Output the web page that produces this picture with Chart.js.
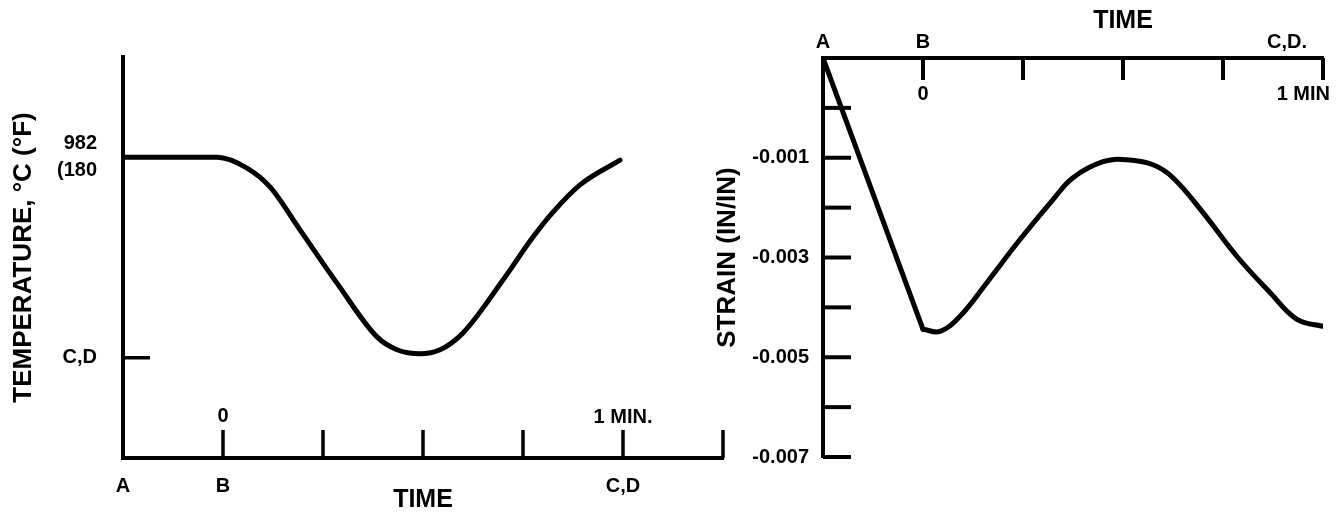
<!DOCTYPE html>
<html>
<head>
<meta charset="utf-8">
<title>Temperature and strain cycle</title>
<script src="https://cdn.jsdelivr.net/npm/chart.js@4.4.0/dist/chart.umd.min.js"></script>
<style>
  body { margin: 0; background: #fff; }
  #wrap { position: relative; width: 1343px; height: 519px; overflow: hidden; }
  canvas { position: absolute; top: 0; }
  #tempChart { left: 0; }
  #strainChart { left: 680px; }
</style>
</head>
<body>
<div id="wrap">
  <canvas id="tempChart" width="760" height="519"></canvas>
  <canvas id="strainChart" width="663" height="519"></canvas>
</div>
<script>
// Time in minutes, B = 0, C,D = 1 min

// Left graph: temperature (arbitrary units, 982 level = 75, C,D level = 25)
const tempTime  = [-0.25, -0.015, 0.06, 0.1175, 0.1925, 0.285, 0.385, 0.435, 0.4925, 0.5425, 0.60, 0.70, 0.775, 0.825, 0.8925, 0.9925];
const tempValue = [75, 75, 72.3, 67.6, 56.9, 43.6, 30.2, 27.0, 26.0, 27.0, 31.2, 44.4, 55.1, 61.3, 68.1, 74.3];
const tempTimeTicks = [0, 0.25, 0.5, 0.75, 1, 1.25];
const tempPointTimes = [-0.25, 0, 1];
const tempPointLabels = ['A', 'B', 'C,D'];
const tempLevelValues = [25, 75];
const tempLevelLabels = ['C,D', ['982', '(180']];

// Right graph: strain (in/in)
const strainLoadTime  = [-0.25, 0];
const strainLoadValue = [0.001, -0.00444];
const strainTime  = [0, 0.0425, 0.0925, 0.16, 0.2425, 0.325, 0.375, 0.45, 0.51, 0.575, 0.625, 0.70, 0.785, 0.8675, 0.935, 1.0];
const strainValue = [-0.00444, -0.00448, -0.00418, -0.0035, -0.00264, -0.00184, -0.0014, -0.00108, -0.00104, -0.00114, -0.0014, -0.0021, -0.00298, -0.0037, -0.00424, -0.00438];
const strainTimeTicks = [0, 0.25, 0.5, 0.75, 1];
const strainTicks = [0, -0.001, -0.002, -0.003, -0.004, -0.005, -0.006, -0.007];
const strainLabelValues = [-0.001, -0.003, -0.005, -0.007];
const strainPointLabels = ['A', 'B', 'C,D.'];

Chart.defaults.font.family = "'Liberation Sans', Arial, Helvetica, sans-serif";
Chart.defaults.font.size = 20;
Chart.defaults.font.weight = 'bold';
Chart.defaults.color = '#000';

const toPoints = (xs, ys) => xs.map((x, i) => ({ x: x, y: ys[i] }));

// Draws the inward tick marks and the loose labels along the time axis
function axisMarks(cfg) {
    return {
        id: 'axisMarks',
        afterDatasetsDraw(chart) {
            const { ctx, chartArea } = chart;
            const xs = chart.scales.x;
            const ys = chart.scales.y;
            const top = cfg.edge === 'top';
            const edge = top ? chartArea.top : chartArea.bottom;
            ctx.save();
            ctx.strokeStyle = '#000';
            ctx.lineWidth = cfg.tickWidth;
            cfg.xTicks.forEach(v => {
                const px = xs.getPixelForValue(v);
                ctx.beginPath();
                ctx.moveTo(px, edge);
                ctx.lineTo(px, edge + (top ? cfg.xLen : -cfg.xLen));
                ctx.stroke();
            });
            cfg.yTicks.forEach(v => {
                const py = ys.getPixelForValue(v);
                ctx.beginPath();
                ctx.moveTo(chartArea.left, py);
                ctx.lineTo(chartArea.left + cfg.yLen, py);
                ctx.stroke();
            });
            ctx.fillStyle = '#000';
            ctx.textBaseline = 'middle';
            cfg.texts.forEach(t => {
                ctx.font = t.font || "bold 20px 'Liberation Sans', Arial, sans-serif";
                ctx.textAlign = t.align || 'center';
                ctx.fillText(t.text, xs.getPixelForValue(t.at) + (t.dx || 0), edge + t.dy);
            });
            ctx.restore();
        }
    };
}

const lineStyle = {
    borderColor: '#000',
    borderWidth: 5,
    pointRadius: 0,
    fill: false,
    borderCapStyle: 'round',
    borderJoinStyle: 'round'
};

// ---------- Temperature ----------
new Chart(document.getElementById('tempChart'), {
    type: 'line',
    data: {
        datasets: [Object.assign({
            label: 'Temperature',
            data: toPoints(tempTime, tempValue),
            cubicInterpolationMode: 'monotone'
        }, lineStyle)]
    },
    options: {
        responsive: false,
        animation: false,
        layout: { padding: { top: 57, right: 37 } },
        plugins: { legend: { display: false }, tooltip: { enabled: false } },
        scales: {
            x: {
                type: 'linear',
                min: -0.25,
                max: 1.25,
                grid: { display: false },
                border: { display: true, color: '#000', width: 4 },
                afterBuildTicks: scale => { scale.ticks = tempPointTimes.map(v => ({ value: v })); },
                afterFit: scale => { scale.height = 61; },
                ticks: {
                    autoSkip: false,
                    maxRotation: 0,
                    padding: 8,
                    callback: (value, index) => tempPointLabels[index]
                },
                title: {
                    display: true,
                    text: 'TIME',
                    font: { size: 25, weight: 'bold' },
                    padding: { top: 0, bottom: 4 }
                }
            },
            y: {
                min: 0,
                max: 100,
                grid: { display: false },
                border: { display: true, color: '#000', width: 4 },
                afterBuildTicks: scale => { scale.ticks = tempLevelValues.map(v => ({ value: v })); },
                afterFit: scale => { scale.width = 123; },
                ticks: {
                    padding: 18,
                    font: { size: 20, weight: 'bold', lineHeight: 1.35 },
                    callback: (value, index) => tempLevelLabels[index]
                },
                title: {
                    display: true,
                    text: 'TEMPERATURE, °C (°F)',
                    font: { size: 26, weight: 'bold' },
                    padding: { top: 8, bottom: 0 }
                }
            }
        }
    },
    plugins: [axisMarks({
        edge: 'bottom',
        tickWidth: 3.5,
        xLen: 28,
        xTicks: tempTimeTicks,
        yLen: 27,
        yTicks: [tempLevelValues[0]],
        texts: [
            { at: 0, text: '0', dy: -42 },
            { at: 1, text: '1 MIN.', dy: -41 }
        ]
    })]
});

// ---------- Strain ----------
new Chart(document.getElementById('strainChart'), {
    type: 'line',
    data: {
        datasets: [
            Object.assign({
                label: 'Loading',
                data: toPoints(strainLoadTime, strainLoadValue),
                tension: 0
            }, lineStyle),
            Object.assign({
                label: 'Strain',
                data: toPoints(strainTime, strainValue),
                tension: 0.4
            }, lineStyle)
        ]
    },
    options: {
        responsive: false,
        animation: false,
        layout: { padding: { right: 20, bottom: 62 } },
        plugins: { legend: { display: false }, tooltip: { enabled: false } },
        scales: {
            x: {
                type: 'linear',
                position: 'top',
                min: -0.25,
                max: 1,
                grid: { display: false },
                border: { display: true, color: '#000', width: 4 },
                afterFit: scale => { scale.height = 58; },
                ticks: { display: false }
            },
            y: {
                min: -0.007,
                max: 0.001,
                grid: { display: false },
                border: { display: true, color: '#000', width: 4 },
                afterBuildTicks: scale => { scale.ticks = strainLabelValues.map(v => ({ value: v })); },
                afterFit: scale => { scale.width = 143; },
                ticks: {
                    padding: 6,
                    callback: value => value.toFixed(3)
                },
                title: {
                    display: true,
                    text: 'STRAIN (IN/IN)',
                    font: { size: 26, weight: 'bold' },
                    padding: { top: 32, bottom: 0 }
                }
            }
        }
    },
    plugins: [axisMarks({
        edge: 'top',
        tickWidth: 4,
        xLen: 22,
        xTicks: strainTimeTicks,
        yLen: 28,
        yTicks: strainTicks,
        texts: [
            { at: -0.25, text: strainPointLabels[0], dy: -16 },
            { at: 0, text: strainPointLabels[1], dy: -16 },
            { at: 1, text: strainPointLabels[2], align: 'right', dx: -16, dy: -16 },
            { at: 0, text: '0', dy: 36 },
            { at: 1, text: '1 MIN', align: 'right', dx: 7, dy: 36 },
            { at: 0.5, text: 'TIME', dy: -37, font: "bold 25px 'Liberation Sans', Arial, sans-serif" }
        ]
    })]
});
</script>
</body>
</html>
